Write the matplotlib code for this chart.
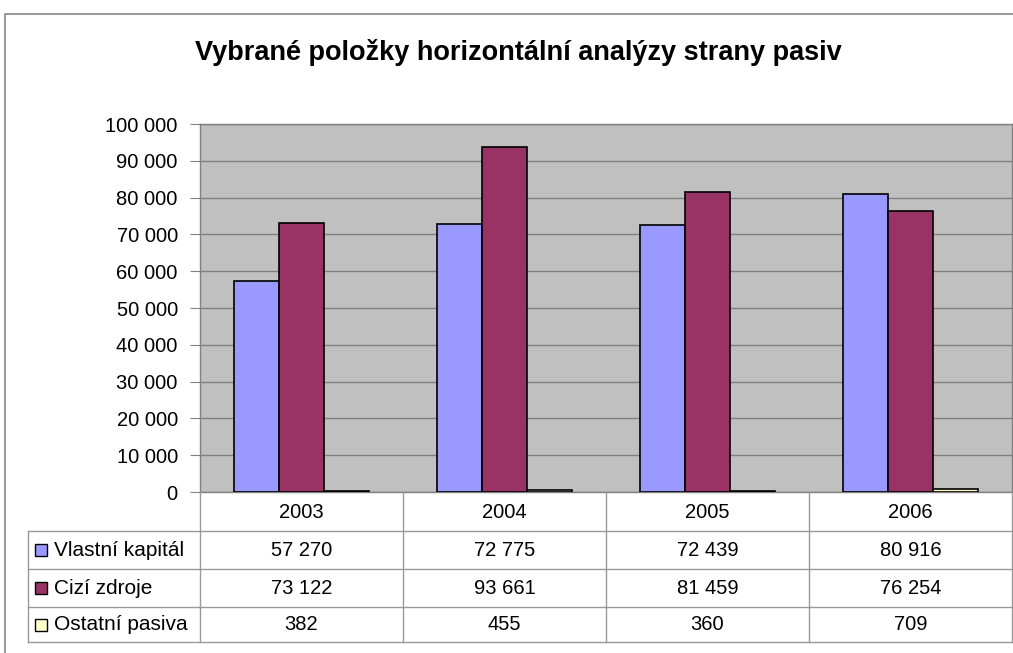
import matplotlib
matplotlib.use("Agg")
import matplotlib.pyplot as plt
from matplotlib.patches import Rectangle
from matplotlib.lines import Line2D
import numpy as np

plt.rcParams["font.family"] = ["Liberation Sans", "DejaVu Sans"]

years = ["2003", "2004", "2005", "2006"]
series_names = ["Vlastní kapitál", "Cizí zdroje", "Ostatní pasiva"]
vlastni_kapital = [57270, 72775, 72439, 80916]
cizi_zdroje = [73122, 93661, 81459, 76254]
ostatni_pasiva = [382, 455, 360, 709]
colors = ["#9999FF", "#993366", "#FFFFCC"]
y_ticks = list(range(0, 100001, 10000))

W, H = 1013, 653


def fx(px):
    return px / W


def fy(py):
    return 1 - py / H


def fmt(v):
    return f"{v:,}".replace(",", " ")


fig = plt.figure(figsize=(W / 100, H / 100), dpi=100)
fig.patch.set_facecolor("white")

# outer chart frame
fig.add_artist(Rectangle((fx(5), fy(700)), fx(1100), fy(14) - fy(700),
                         transform=fig.transFigure, fill=False,
                         edgecolor="#888888", lw=1.2))

fig.text(fx(518), fy(52), "Vybrané položky horizontální analýzy strany pasiv",
         ha="center", va="center", fontsize=19.5, fontweight="bold")

left, right, top, bottom = 200, 1012, 124, 492
ax = fig.add_axes([fx(left), fy(bottom), fx(right - left), fy(top) - fy(bottom)])
ax.set_facecolor("#C0C0C0")

series = [vlastni_kapital, cizi_zdroje, ostatni_pasiva]
x = np.arange(len(years))
width = 0.222
for i, (vals, c) in enumerate(zip(series, colors)):
    ax.bar(x + (i - 1) * width, vals, width, color=c, edgecolor="black",
           linewidth=1.2, zorder=3)

ax.set_xlim(-0.5, len(years) - 0.5)
ax.set_ylim(0, 100000)
ax.set_yticks(y_ticks)
ax.set_yticklabels([fmt(v) for v in y_ticks], fontsize=14.5)
ax.set_xticks([])
ax.yaxis.grid(True, color="#808080", lw=1, zorder=1)
ax.tick_params(axis="y", length=7, color="#808080", pad=9)
for s in ax.spines.values():
    s.set_color("#808080")
    s.set_linewidth(1)

# data table below the plot
row_lines = [492, 531, 569, 607, 642]
col_lines = [200 + 203 * k for k in range(5)]
lc = "#999999"
for cx in col_lines:
    fig.add_artist(Line2D([fx(cx), fx(cx)], [fy(492), fy(642)],
                          transform=fig.transFigure, color=lc, lw=1))
fig.add_artist(Line2D([fx(28), fx(28)], [fy(531), fy(642)],
                      transform=fig.transFigure, color=lc, lw=1))
for ry in row_lines[1:]:
    fig.add_artist(Line2D([fx(28), fx(1012)], [fy(ry), fy(ry)],
                          transform=fig.transFigure, color=lc, lw=1))

for j, yr in enumerate(years):
    cx = col_lines[j] + 101.5
    fig.text(fx(cx), fy(512), yr, ha="center", va="center", fontsize=14.5)
    for i, vals in enumerate(series):
        cy = (row_lines[i + 1] + row_lines[i + 2]) / 2
        fig.text(fx(cx), fy(cy), fmt(vals[j]), ha="center", va="center",
                 fontsize=14.5)

for i, (name, c) in enumerate(zip(series_names, colors)):
    cy = (row_lines[i + 1] + row_lines[i + 2]) / 2
    fig.add_artist(Rectangle((fx(35), fy(cy + 6)), fx(12), fy(cy - 6) - fy(cy + 6),
                             transform=fig.transFigure, facecolor=c,
                             edgecolor="black", lw=1))
    fig.text(fx(54), fy(cy), name, ha="left", va="center", fontsize=15)

fig.savefig("out.png", dpi=100)
